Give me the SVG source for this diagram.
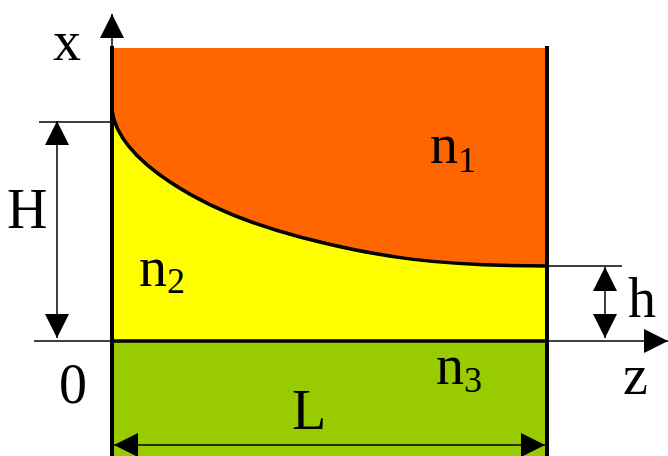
<svg xmlns="http://www.w3.org/2000/svg" width="668" height="456" viewBox="0 0 668 456">
<defs>
<style>
.t{font-family:"Liberation Serif","Times New Roman",serif;font-size:56px;fill:#000}
.s{font-size:36px}
.thin{stroke:#000;stroke-width:1.5;fill:none}
.thick{stroke:#000;stroke-width:4;fill:none}
</style>
<marker id="ah" markerUnits="userSpaceOnUse" markerWidth="24" markerHeight="24" viewBox="0 0 24 24" refX="24" refY="12" orient="auto-start-reverse">
<path d="M0,0 L24,12 L0,24 z" fill="#000"/>
</marker>
</defs>
<rect width="668" height="456" fill="#fff"/>
<g id="regions">
<rect id="n1-region" x="112" y="48" width="435" height="220" fill="#FF6600"/>
<path id="n2-region" d="M112,110 C118,160 200,211 300,237 C380,258 440,266 547,266 L547,341 L112,341 Z" fill="#FFFF00"/>
<rect id="n3-region" x="112" y="341" width="435" height="115" fill="#99CC00"/>
<path id="interface" d="M112,110 C118,160 200,211 300,237 C380,258 440,266 547,266" stroke="#000" stroke-width="3.5" fill="none"/>
</g>
<g id="connectors">
<line class="thin" x1="112" y1="48" x2="112" y2="14" marker-end="url(#ah)"/>
<line class="thin" x1="34" y1="341" x2="668" y2="341" marker-end="url(#ah)"/>
<line class="thin" x1="39" y1="122" x2="112" y2="122"/>
<line class="thin" x1="547" y1="266" x2="622" y2="266"/>
<line class="thin" x1="57" y1="121" x2="57" y2="338" marker-start="url(#ah)" marker-end="url(#ah)"/>
<line class="thin" x1="605" y1="267" x2="605" y2="338" marker-start="url(#ah)" marker-end="url(#ah)"/>
<line class="thin" x1="114" y1="445" x2="545" y2="445" marker-start="url(#ah)" marker-end="url(#ah)"/>
<line class="thick" x1="112" y1="46" x2="112" y2="456"/>
<line class="thick" x1="547" y1="46" x2="547" y2="456"/>
<line stroke="#000" stroke-width="3.5" x1="112" y1="341" x2="547" y2="341"/>
</g>
<g id="labels">
<text class="t" x="53" y="60">x</text>
<text class="t" x="7" y="228">H</text>
<text class="t" x="59" y="403">0</text>
<text class="t" x="623" y="394">z</text>
<text class="t" x="628" y="317">h</text>
<text class="t" x="292" y="429">L</text>
<text class="t" x="430" y="163">n<tspan class="s" dy="9">1</tspan></text>
<text class="t" x="139" y="286">n<tspan class="s" dy="7">2</tspan></text>
<text class="t" x="436" y="384">n<tspan class="s" dy="8">3</tspan></text>
</g>
</svg>
